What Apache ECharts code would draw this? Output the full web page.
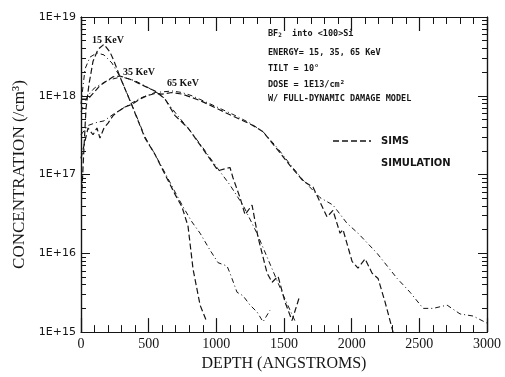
<!DOCTYPE html>
<html>
<head>
<meta charset="utf-8">
<script src="https://cdn.jsdelivr.net/npm/echarts@6/dist/echarts.min.js"></script>
<style>
  html, body { margin: 0; padding: 0; background: #ffffff; }
  #chart { width: 505px; height: 377px; }
</style>
</head>
<body>
<div id="chart"></div>
<script>
// ---- Data (depth in Angstroms, concentration in /cm^3) ----
const xTicks = [0, 500, 1000, 1500, 2000, 2500, 3000];
const yTickLabels = ['1E+15', '1E+16', '1E+17', '1E+18', '1E+19'];

const depth15Sims = [7, 22, 37, 59, 89, 126, 170, 214, 244, 288, 377, 473, 547, 621, 695, 746, 791, 828, 880, 931];
const conc15Sims = [6.3e16, 2.2e17, 6.9e17, 1.4e18, 2.75e18, 3.9e18, 4.5e18, 3.6e18, 2.75e18, 1.74e18, 7.5e17, 2.9e17, 1.8e17, 1.0e17, 5.6e16, 3.9e16, 2.2e16, 6.3e15, 2.2e15, 1.33e15];

const depth15Sim = [0, 30, 67, 118, 170, 229, 288, 377, 473, 547, 621, 695, 754, 820, 880, 953, 1013, 1079, 1101, 1153, 1197, 1249, 1301, 1345, 1397];
const conc15Sim = [7.9e17, 2.2e18, 3.1e18, 3.5e18, 3.3e18, 2.6e18, 1.74e18, 7.6e17, 3.0e17, 1.8e17, 1.05e17, 6.0e16, 3.9e16, 2.5e16, 1.8e16, 1.1e16, 7.6e15, 6.9e15, 5.6e15, 3.2e15, 2.9e15, 2.2e15, 1.8e15, 1.35e15, 1.9e15];

const depth35Sims = [0, 52, 89, 140, 192, 237, 288, 362, 436, 547, 621, 695, 791, 894, 1013, 1101, 1123, 1175, 1212, 1264, 1308, 1375, 1412, 1456, 1508, 1559, 1611];
const conc35Sims = [9.1e17, 9.1e17, 1.07e18, 1.35e18, 1.55e18, 1.74e18, 1.78e18, 1.62e18, 1.41e18, 1.15e18, 9.1e17, 5.6e17, 3.9e17, 2.2e17, 1.12e17, 1.23e17, 9.1e16, 5.1e16, 3.1e16, 4.1e16, 1.6e16, 5.6e15, 4.3e15, 5.1e15, 2.4e15, 1.4e15, 2.7e15];

const depth35Sim = [0, 50, 100, 200, 300, 400, 500, 600, 700, 800, 900, 1000, 1100, 1200, 1300, 1400, 1500, 1580];
const conc35Sim = [6.3e17, 1.0e18, 1.26e18, 1.58e18, 1.74e18, 1.55e18, 1.26e18, 1.0e18, 6.0e17, 3.7e17, 2.2e17, 1.26e17, 7.4e16, 4.0e16, 1.8e16, 7.1e15, 2.8e15, 1.4e15];

const depth65Sims = [0, 52, 89, 118, 140, 170, 200, 237, 273, 325, 377, 436, 488, 547, 599, 673, 746, 820, 880, 953, 1027, 1123, 1249, 1345, 1449, 1545, 1641, 1715, 1818, 1862, 1914, 1936, 2003, 2047, 2099, 2151, 2195, 2247, 2306];
const conc65Sims = [1.6e17, 3.9e17, 3.2e17, 3.9e17, 2.9e17, 3.9e17, 4.5e17, 5.6e17, 6.3e17, 7.2e17, 7.8e17, 9.1e17, 1.0e18, 1.07e18, 1.05e18, 1.1e18, 1.05e18, 9.5e17, 8.7e17, 7.6e17, 6.6e17, 5.5e17, 4.4e17, 3.5e17, 2.1e17, 1.3e17, 8.3e16, 6.9e16, 2.9e16, 3.5e16, 1.8e16, 2.0e16, 7.9e15, 6.5e15, 8.5e15, 5.6e15, 4.8e15, 2.4e15, 1.0e15];

const depth65Sim = [0, 52, 118, 170, 237, 325, 436, 547, 673, 746, 820, 953, 1123, 1249, 1345, 1449, 1545, 1641, 1766, 1862, 1966, 2047, 2188, 2336, 2432, 2528, 2602, 2705, 2801, 2897, 3000];
const conc65Sim = [3.2e17, 4.2e17, 4.6e17, 4.8e17, 5.8e17, 7.2e17, 9.3e17, 1.1e18, 1.15e18, 1.1e18, 1.0e18, 7.9e17, 5.8e17, 4.5e17, 3.5e17, 2.2e17, 1.35e17, 8.5e16, 5.1e16, 4.1e16, 2.4e16, 1.8e16, 1.0e16, 4.8e15, 3.2e15, 2.0e15, 2.0e15, 2.2e15, 1.7e15, 1.6e15, 1.3e15];

const curveLabels = ['15 KeV', '35 KeV', '65 KeV'];
const infoLines = ['into <100>Si', 'ENERGY= 15, 35, 65 KeV', 'TILT = 10°', 'DOSE = 1E13/cm²', 'W/ FULL-DYNAMIC DAMAGE MODEL'];
const legendNames = ['SIMS', 'SIMULATION'];

// ---- build ----
function pairs(xs, ys) { return xs.map((x, i) => [x, ys[i]]); }
const minorLog = [];
for (let e = 15; e < 19; e++) for (let k = 2; k <= 9; k++) minorLog.push(k * Math.pow(10, e));

const ink = '#151515';
const simsStyle = { color: ink, width: 1.2, type: [6, 3] };
const simStyle = { color: ink, width: 1, type: [5, 3, 1, 3] };

function mkSeries(name, xs, ys, style) {
  return { name: name, type: 'line', data: pairs(xs, ys), showSymbol: false, symbol: 'none',
           lineStyle: style, itemStyle: { color: ink }, silent: true, z: 3 };
}

function yAxisDef(pos, minor, withLabels) {
  const a = {
    type: 'log', logBase: 10, min: 1e15, max: 1e19, position: pos,
    splitLine: { show: false },
    axisLine: { show: true, onZero: false, lineStyle: { color: ink, width: 1.2 } },
    axisTick: { show: true, inside: true, length: minor ? 5 : 9, lineStyle: { color: ink, width: 1 } },
    axisLabel: { show: false }
  };
  if (minor) a.axisTick.customValues = minorLog;
  if (withLabels) {
    a.axisLabel = { show: true, margin: 5, color: ink, fontFamily: 'DejaVu Sans', fontSize: 11,
                    formatter: function (v) { return yTickLabels[Math.round(Math.log10(v)) - 15]; } };
    a.name = 'CONCENTRATION (/cm³)';
    a.nameLocation = 'middle';
    a.nameGap = 52;
    a.nameRotate = 90;
    a.nameTextStyle = { color: ink, fontFamily: 'Liberation Serif', fontSize: 17 };
  }
  return a;
}

function xAxisDef(pos, withLabels) {
  const a = {
    type: 'value', min: 0, max: 3000, interval: 500, position: pos,
    splitLine: { show: false },
    axisLine: { show: true, onZero: false, lineStyle: { color: ink, width: 1.2 } },
    axisTick: { show: true, inside: true, length: 14, lineStyle: { color: ink, width: 1.2 } },
    minorTick: { show: true, splitNumber: 5, length: 7, lineStyle: { color: ink, width: 1 } },
    axisLabel: { show: false }
  };
  if (withLabels) {
    a.axisLabel = { show: true, margin: 5, color: ink, fontFamily: 'Liberation Serif', fontSize: 14,
                    formatter: function (v) { return String(v); } };
    a.name = 'DEPTH (ANGSTROMS)';
    a.nameLocation = 'middle';
    a.nameGap = 22;
    a.nameTextStyle = { color: ink, fontFamily: 'Liberation Serif', fontSize: 16 };
  }
  return a;
}

const chart = echarts.init(document.getElementById('chart'), null, { renderer: 'canvas' });
chart.setOption({
  animation: false,
  backgroundColor: '#ffffff',
  grid: { left: 81, right: 18, top: 17, bottom: 40 },
  xAxis: [xAxisDef('bottom', true), xAxisDef('top', false)],
  yAxis: [yAxisDef('left', false, true), yAxisDef('left', true, false),
          yAxisDef('right', false, false), yAxisDef('right', true, false)],
  graphic: [
    { type: 'text', left: 92, top: 35, style: { text: curveLabels[0], fill: ink, font: 'bold 10px "Liberation Serif"' } },
    { type: 'text', left: 123, top: 67, style: { text: curveLabels[1], fill: ink, font: 'bold 10px "Liberation Serif"' } },
    { type: 'text', left: 167, top: 78, style: { text: curveLabels[2], fill: ink, font: 'bold 10px "Liberation Serif"' } },
    { type: 'text', left: 268, top: 29, style: {
        text: '{a|BF}{s|2}{a|  ' + infoLines[0] + '}',
        rich: { a: { fill: ink, font: 'bold 8.5px "DejaVu Sans Mono"' },
                s: { fill: ink, font: 'bold 6px "DejaVu Sans Mono"', verticalAlign: 'bottom', padding: [4, 0, 0, 0] } } } },
    { type: 'text', left: 268, top: 48, style: { text: infoLines[1], fill: ink, font: 'bold 8.5px "DejaVu Sans Mono"' } },
    { type: 'text', left: 268, top: 64, style: { text: infoLines[2], fill: ink, font: 'bold 8.5px "DejaVu Sans Mono"' } },
    { type: 'text', left: 268, top: 80, style: { text: infoLines[3], fill: ink, font: 'bold 8.5px "DejaVu Sans Mono"' } },
    { type: 'text', left: 268, top: 94, style: { text: infoLines[4], fill: ink, font: 'bold 8.5px "DejaVu Sans Mono"' } },
    { type: 'line', shape: { x1: 333, y1: 141, x2: 371, y2: 141 }, style: { stroke: ink, lineWidth: 1.3, lineDash: [6, 3] } },
    { type: 'text', left: 381, top: 136, style: { text: legendNames[0], fill: ink, font: 'bold 10px "DejaVu Sans"' } },
    { type: 'text', left: 381, top: 158, style: { text: legendNames[1], fill: ink, font: 'bold 10px "DejaVu Sans"' } }
  ],
  series: [
    mkSeries('SIMS', depth15Sims, conc15Sims, simsStyle),
    mkSeries('SIMULATION', depth15Sim, conc15Sim, simStyle),
    mkSeries('SIMS', depth35Sims, conc35Sims, simsStyle),
    mkSeries('SIMULATION', depth35Sim, conc35Sim, simStyle),
    mkSeries('SIMS', depth65Sims, conc65Sims, simsStyle),
    mkSeries('SIMULATION', depth65Sim, conc65Sim, simStyle)
  ]
});
</script>
</body>
</html>
